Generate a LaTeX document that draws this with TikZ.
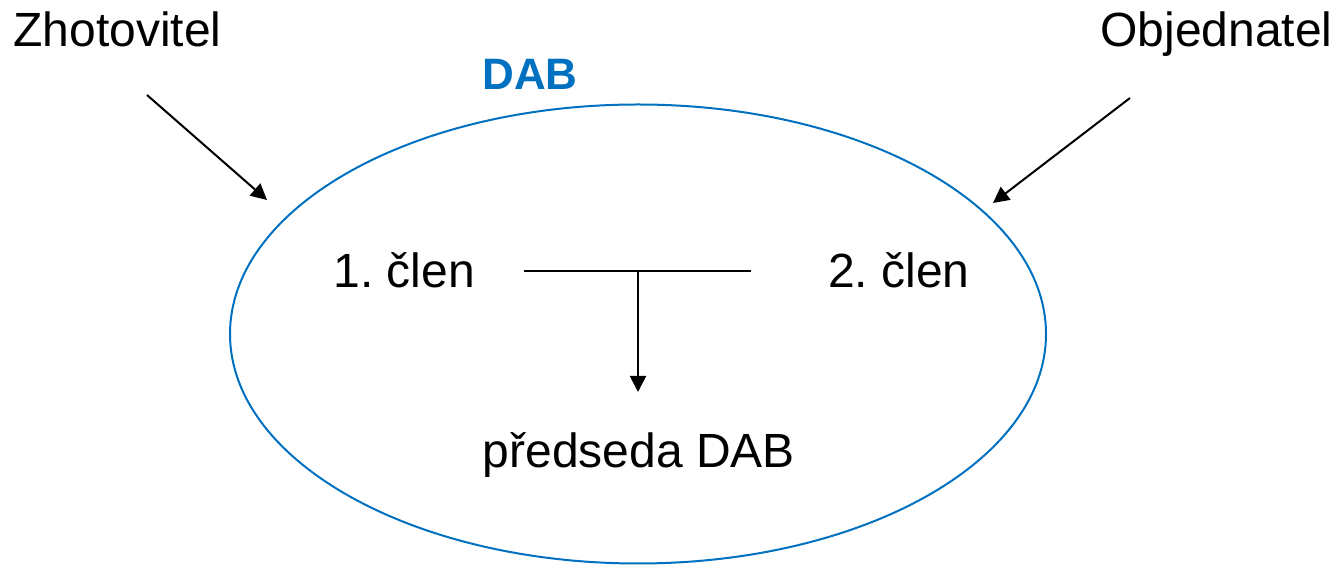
\documentclass[tikz,border=0pt]{standalone}
\usepackage{fontspec}
\setmainfont{Liberation Sans}
\usetikzlibrary{arrows.meta}
\definecolor{dabblue}{RGB}{0,112,192}
\tikzset{
  label text/.style={inner sep=0pt, font=\fontsize{24}{28}\selectfont},
  flow/.style={line width=1pt, -{Triangle[length=8pt,width=8pt]}},
}
\begin{document}
\begin{tikzpicture}[x=0.5pt, y=-0.5pt]
			\useasboundingbox (0,0) rectangle (1338,565);

			% Board
			\draw[dabblue, line width=1pt] (638,334) ellipse [x radius=408, y radius=229.5];
			\node[inner sep=0pt, anchor=base, text=dabblue, font=\fontsize{22}{26}\selectfont\bfseries] (dab) at (530,90) {DAB};

			% Parties
			\node[label text, anchor=base west] (zhotovitel) at (13,47) {Zhotovitel};
			\node[label text, anchor=base east] (objednatel) at (1333,47) {Objednatel};
			\coordinate (zstart) at (147,95);
			\coordinate (zend) at (267,200);
			\coordinate (ostart) at (1130,98);
			\coordinate (oend) at (993,203);
			\draw[flow] (zstart) -- (zend);
			\draw[flow] (ostart) -- (oend);

			% Members
			\node[label text, anchor=base west] (clen1) at (333,288) {1.~člen};
			\node[label text, anchor=base east] (clen2) at (970,288) {2.~člen};
			\node[label text, anchor=base] (predseda) at (639,468) {předseda DAB};
			\coordinate (tleft) at (524,271);
			\coordinate (tright) at (751,271);
			\coordinate (tmid) at (638,271);
			\coordinate (tend) at (638,392);
			\draw[line width=1pt] (tleft) -- (tright);
			\draw[flow] (tmid) -- (tend);
		\end{tikzpicture}
\end{document}
